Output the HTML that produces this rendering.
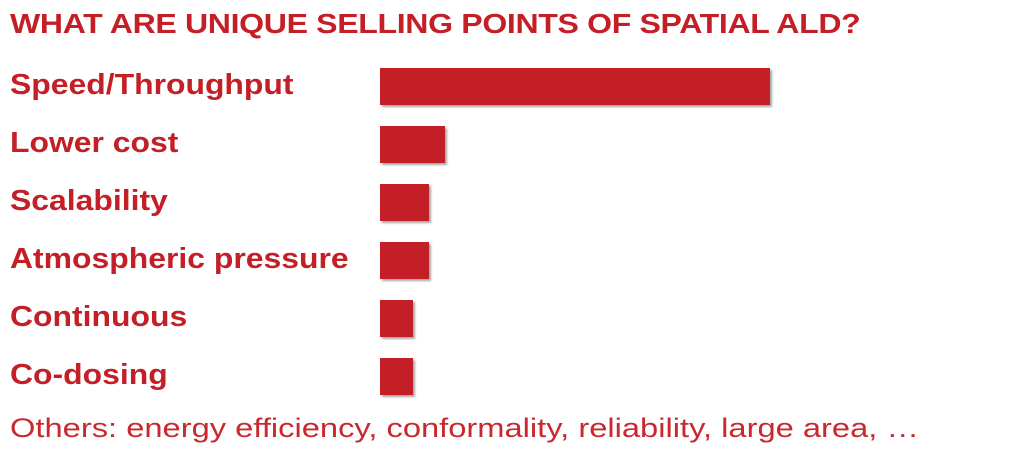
<!DOCTYPE html>
<html><head><style>
body{margin:0;width:1024px;height:456px;background:#fff;position:relative;overflow:hidden;font-family:"Liberation Sans",sans-serif;color:#c41f26}
.t{position:absolute;left:10px;top:8px;font-weight:bold;font-size:28px;letter-spacing:-0.3px;white-space:nowrap;transform:scaleX(1.145);transform-origin:0 0}
.l{position:absolute;left:10px;font-weight:bold;font-size:29px;white-space:nowrap;line-height:36px;transform:scaleX(1.1);transform-origin:0 0}
.b{position:absolute;left:380px;height:37px;background:#c41f26;box-shadow:2px 2px 2px rgba(0,0,0,.35)}
.o{position:absolute;left:10px;top:413px;font-size:27px;white-space:nowrap;color:#c8282e;transform:scaleX(1.21);transform-origin:0 0}
</style></head><body>
<div class="t">WHAT ARE UNIQUE SELLING POINTS OF SPATIAL ALD?</div>
<div class="l" style="top:67px">Speed/Throughput</div>
<div class="l" style="top:125px">Lower cost</div>
<div class="l" style="top:183px">Scalability</div>
<div class="l" style="top:241px">Atmospheric pressure</div>
<div class="l" style="top:299px">Continuous</div>
<div class="l" style="top:357px">Co-dosing</div>
<div class="b" style="top:68px;width:390px"></div>
<div class="b" style="top:126px;width:65px"></div>
<div class="b" style="top:184px;width:49px"></div>
<div class="b" style="top:242px;width:49px"></div>
<div class="b" style="top:300px;width:33px"></div>
<div class="b" style="top:358px;width:33px"></div>
<div class="o">Others: energy efficiency, conformality, reliability, large area, …</div>
</body></html>
